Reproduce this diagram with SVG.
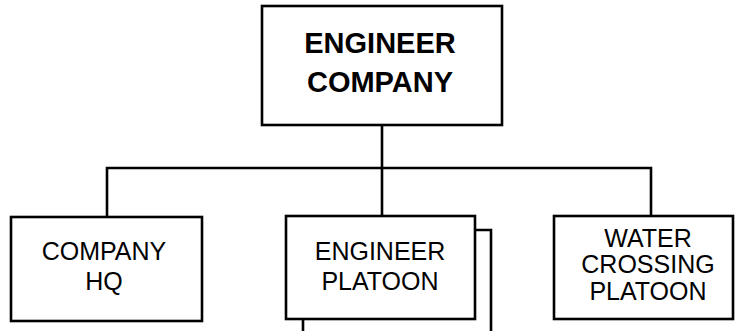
<svg xmlns="http://www.w3.org/2000/svg" width="735" height="331" viewBox="0 0 735 331">
<style>
.box{fill:#fff;stroke:#000;stroke-width:2.6}
.ln{fill:none;stroke:#000;stroke-width:2.6}
.t{font-family:"Liberation Sans",Arial,sans-serif;font-size:25px;text-anchor:middle;fill:#000}
.tb{font-family:"Liberation Sans",Arial,sans-serif;font-size:29px;font-weight:bold;text-anchor:middle;fill:#000}
</style>
<rect width="735" height="331" fill="#fff"/>
<g id="connectors">
<path class="ln" d="M382 125V168M107 216V168H651V216M382 168V216"/>
</g>
<g id="engineer-company">
<rect class="box" x="262" y="6" width="240" height="119"/>
<text class="tb" x="380" y="53">ENGINEER</text>
<text class="tb" x="380" y="92">COMPANY</text>
</g>
<g id="company-hq">
<rect class="box" x="11" y="217" width="191" height="104"/>
<text class="t" x="104" y="260">COMPANY</text>
<text class="t" x="104" y="290">HQ</text>
</g>
<g id="engineer-platoon">
<path class="ln" d="M475 230H491V331M303 319V331"/>
<rect class="box" x="286" y="216" width="189" height="103"/>
<text class="t" x="380" y="260">ENGINEER</text>
<text class="t" x="380" y="290">PLATOON</text>
</g>
<g id="water-crossing-platoon">
<rect class="box" x="554" y="216" width="179" height="103"/>
<text class="t" x="648" y="247">WATER</text>
<text class="t" x="648" y="273">CROSSING</text>
<text class="t" x="648" y="300">PLATOON</text>
</g>
</svg>
